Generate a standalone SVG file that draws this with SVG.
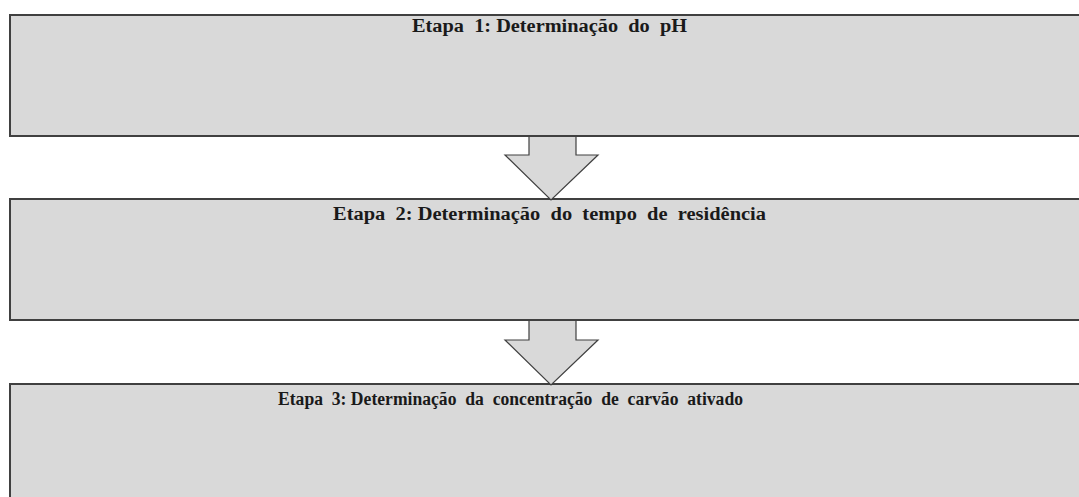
<svg xmlns="http://www.w3.org/2000/svg" width="1079" height="497" viewBox="0 0 1079 497">
<style>
.box{fill:#d9d9d9;stroke:#404040;stroke-width:2}
.arrow{fill:#d9d9d9;stroke:#404040;stroke-width:1.2;stroke-linejoin:miter}
.lbl{font-family:"Liberation Serif",serif;font-weight:bold;font-size:18.5px;fill:#1a1a1a;white-space:pre}
</style>
<rect width="1079" height="497" fill="#ffffff"/>
<g id="node1">
<rect class="box" x="10" y="15" width="1080" height="121"/>
<text class="lbl" x="412" y="32" textLength="275" lengthAdjust="spacingAndGlyphs" xml:space="preserve">Etapa  1: Determinação  do  pH</text>
</g>
<g id="node2">
<rect class="box" x="10" y="199" width="1080" height="121"/>
<text class="lbl" x="333" y="220" textLength="433" lengthAdjust="spacingAndGlyphs" xml:space="preserve">Etapa  2: Determinação  do  tempo  de  residência</text>
</g>
<g id="node3">
<rect class="box" x="10" y="384" width="1080" height="130"/>
<text class="lbl" x="278" y="405" textLength="465" lengthAdjust="spacingAndGlyphs" xml:space="preserve">Etapa  3: Determinação  da  concentração  de  carvão  ativado</text>
</g>
<g id="connectors">
<path class="arrow" d="M529 137 V155 H505 L551 200 L598 155 H576 V137"/>
<path class="arrow" d="M529 321 V340 H505 L551 385 L598 340 H576 V321"/>
</g>
</svg>
